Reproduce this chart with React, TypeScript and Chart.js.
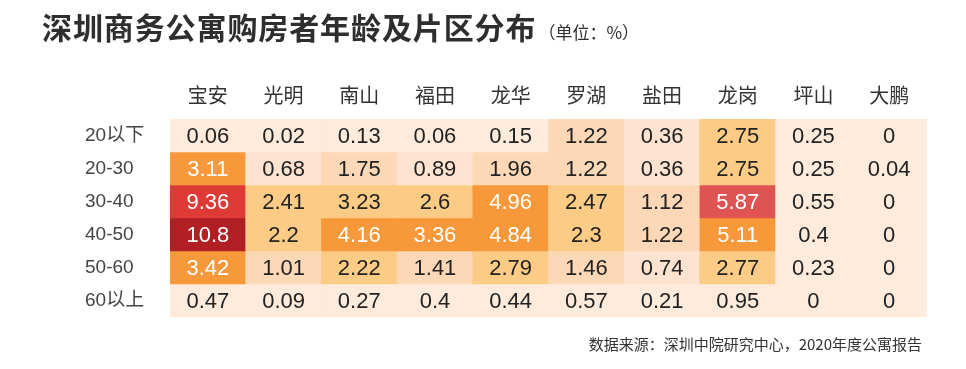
import React, { useEffect, useRef } from "react";
import { Chart, registerables } from "chart.js";

Chart.register(...registerables);

// ---- data ----
const districts = ["宝安", "光明", "南山", "福田", "龙华", "罗湖", "盐田", "龙岗", "坪山", "大鹏"];
const ageGroups = ["20以下", "20-30", "30-40", "40-50", "50-60", "60以上"];

const age20Below = [0.06, 0.02, 0.13, 0.06, 0.15, 1.22, 0.36, 2.75, 0.25, 0];
const age20to30 = [3.11, 0.68, 1.75, 0.89, 1.96, 1.22, 0.36, 2.75, 0.25, 0.04];
const age30to40 = [9.36, 2.41, 3.23, 2.6, 4.96, 2.47, 1.12, 5.87, 0.55, 0];
const age40to50 = [10.8, 2.2, 4.16, 3.36, 4.84, 2.3, 1.22, 5.11, 0.4, 0];
const age50to60 = [3.42, 1.01, 2.22, 1.41, 2.79, 1.46, 0.74, 2.77, 0.23, 0];
const age60Above = [0.47, 0.09, 0.27, 0.4, 0.44, 0.57, 0.21, 0.95, 0, 0];

// colour band of each cell as shown in the reference (0 = palest)
const band20Below = [0, 0, 0, 0, 0, 2, 1, 3, 0, 0];
const band20to30 = [4, 1, 2, 1, 2, 2, 1, 3, 0, 0];
const band30to40 = [6, 3, 3, 3, 4, 3, 2, 5, 0, 0];
const band40to50 = [7, 3, 4, 4, 4, 3, 2, 4, 0, 0];
const band50to60 = [4, 2, 3, 2, 3, 2, 1, 3, 0, 0];
const band60Above = [0, 0, 0, 0, 0, 0, 0, 0, 0, 0];

const rowValues = [age20Below, age20to30, age30to40, age40to50, age50to60, age60Above];
const rowBands = [band20Below, band20to30, band30to40, band40to50, band50to60, band60Above];

const palette = ["#FEEBDB", "#FDE3D0", "#FCD8B6", "#FCCB85", "#F7993B", "#E05353", "#DE3B37", "#B11E24"];

const cellLabels = {
  id: "cellLabels",
  afterDatasetsDraw(chart: any) {
    const ctx = chart.ctx;
    ctx.save();
    ctx.font = "22px 'Liberation Sans', Arial, sans-serif";
    ctx.textAlign = "center";
    ctx.textBaseline = "middle";
    chart.data.datasets.forEach((_ds: any, i: number) => {
      const meta = chart.getDatasetMeta(i);
      meta.data.forEach((bar: any, j: number) => {
        const v = rowValues[i][j];
        const band = rowBands[i][j];
        ctx.fillStyle = band >= 4 ? "#FFFFFF" : "#222222";
        const p = bar.getProps(["x", "y", "base"], true);
        ctx.fillText(String(v), p.x, (p.y + p.base) / 2 + 1);
      });
    });
    ctx.restore();
  },
};

export default function App() {
  const canvasRef = useRef<HTMLCanvasElement | null>(null);

  useEffect(() => {
    const canvas = canvasRef.current;
    if (!canvas) return;
    const chart = new Chart(canvas, {
      type: "bar",
      data: {
        labels: districts,
        datasets: ageGroups.map((g, i) => ({
          label: g,
          data: districts.map(() => 1),
          backgroundColor: rowBands[i].map((b) => palette[b]),
          borderWidth: 0,
          categoryPercentage: 1,
          barPercentage: 1,
          yAxisID: "y",
          stack: "cells",
        })),
      },
      options: {
        animation: false,
        responsive: false,
        maintainAspectRatio: false,
        layout: { padding: { left: 85, right: 39, top: 70, bottom: 52 } },
        plugins: {
          legend: { display: false },
          tooltip: { enabled: false },
          title: { display: false },
        },
        scales: {
          x: {
            type: "category",
            position: "top",
            stacked: true,
            grid: { display: false, drawTicks: false },
            border: { display: false },
            ticks: {
              color: "#333333",
              padding: 12,
              font: { family: "'Noto Sans CJK SC', sans-serif", size: 20 },
            },
            afterFit: (s: any) => {
              s.height = 49;
            },
          },
          y: {
            type: "linear",
            min: 0,
            max: 6,
            reverse: true,
            stacked: true,
            display: false,
          },
          yl: {
            type: "category",
            labels: ageGroups,
            position: "left",
            offset: true,
            grid: { display: false, drawTicks: false },
            border: { display: false },
            ticks: {
              crossAlign: "far",
              color: "#444444",
              font: { family: "'Liberation Sans', 'Noto Sans CJK SC', sans-serif", size: 19 },
            },
            afterFit: (s: any) => {
              s.width = 85;
            },
          },
        } as any,
      },
      plugins: [cellLabels],
    });
    return () => chart.destroy();
  }, []);

  return (
    <div style={{ position: "fixed", left: 0, top: 0, width: 966, height: 369, background: "#FFFFFF", overflow: "hidden" }}>
      <canvas ref={canvasRef} width={966} height={369} style={{ position: "absolute", left: 0, top: 0, width: 966, height: 369 }} />
      <div
        style={{
          position: "absolute",
          left: 42,
          top: 8,
          whiteSpace: "nowrap",
          fontFamily: "'Noto Sans CJK SC', sans-serif",
          color: "#2E2E2E",
          lineHeight: "36px",
        }}
      >
        <span style={{ fontSize: 30, fontWeight: 700, letterSpacing: 0.9 }}>深圳商务公寓购房者年龄及片区分布</span>
        <span style={{ fontSize: 17, fontWeight: 400, marginLeft: 2 }}>（单位：%）</span>
      </div>
      <div
        style={{
          position: "absolute",
          right: 44,
          top: 334,
          whiteSpace: "nowrap",
          fontFamily: "'Noto Sans CJK SC', sans-serif",
          fontSize: 15,
          lineHeight: "20px",
          color: "#333333",
        }}
      >
        数据来源：深圳中院研究中心，2020年度公寓报告
      </div>
    </div>
  );
}
